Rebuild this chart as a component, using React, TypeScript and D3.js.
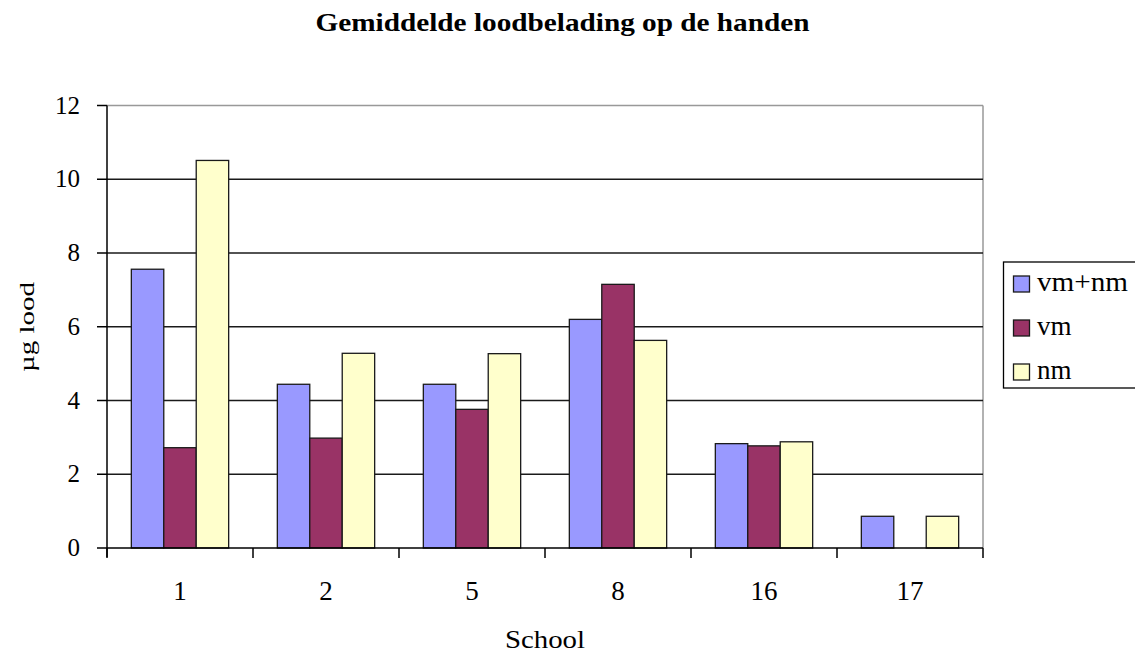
import React from "react";
import * as d3 from "d3";

const categories = ["1", "2", "5", "8", "16", "17"];
const seriesNames = ["vm+nm", "vm", "nm"];
const vmnm = [7.56, 4.44, 4.44, 6.2, 2.83, 0.86];
const vm = [2.72, 2.98, 3.76, 7.15, 2.77, 0];
const nm = [10.51, 5.28, 5.27, 5.63, 2.88, 0.86];
const colors = ["#9999FF", "#993366", "#FFFFCC"];
const yTicks = [0, 2, 4, 6, 8, 10, 12];

const W = 1135;
const H = 655;
const L = 107, R = 983, T = 105.5, B = 548;
const FONT = "'Liberation Serif', 'Times New Roman', serif";

export default function App() {
  const x0 = d3.scaleBand<string>().domain(categories).range([L, R]).paddingInner(0).paddingOuter(0);
  const x1 = d3.scaleBand<string>().domain(seriesNames).range([0, x0.bandwidth()]).paddingInner(0).paddingOuter(0.75);
  const y = d3.scaleLinear().domain([0, 12]).range([B, T]);
  const data = [vmnm, vm, nm];

  return (
    <svg width={W} height={H} style={{ position: "absolute", left: 0, top: 0, background: "#fff" }}>
      <rect x={0} y={0} width={W} height={H} fill="#fff" />
      <text x={562.5} y={31} textAnchor="middle" fontFamily={FONT} fontWeight="bold" fontSize={26}
        textLength={494} lengthAdjust="spacingAndGlyphs" fill="#000">Gemiddelde loodbelading op de handen</text>

      {/* plot border top/right */}
      <line x1={L} x2={R} y1={T} y2={T} stroke="#999" strokeWidth={1.5} />
      <line x1={R} x2={R} y1={T} y2={B} stroke="#999" strokeWidth={1.5} />

      {/* gridlines */}
      {yTicks.filter(t => t > 0 && t < 12).map(t => (
        <line key={t} x1={L} x2={R} y1={y(t)} y2={y(t)} stroke="#1a1a1a" strokeWidth={1.5} />
      ))}

      {/* bars */}
      {categories.map((c, i) => (
        <g key={c} transform={`translate(${x0(c)},0)`}>
          {seriesNames.map((s, j) => {
            const v = data[j][i];
            if (!v) return null;
            return (
              <rect key={s} x={x1(s)} y={y(v)} width={x1.bandwidth()} height={y(0) - y(v)}
                fill={colors[j]} stroke="#1a1a1a" strokeWidth={1.3} />
            );
          })}
        </g>
      ))}

      {/* y axis */}
      <line x1={L} x2={L} y1={T} y2={B + 9} stroke="#000" strokeWidth={1.5} />
      {yTicks.map(t => (
        <g key={t}>
          <line x1={L - 10} x2={L} y1={y(t)} y2={y(t)} stroke="#000" strokeWidth={1.5} />
          <text x={80} y={y(t) + 8} textAnchor="end" fontFamily={FONT} fontSize={25} fill="#000">{t}</text>
        </g>
      ))}

      {/* x axis */}
      <line x1={L} x2={R} y1={B} y2={B} stroke="#000" strokeWidth={1.5} />
      {[...categories.map(c => x0(c) as number), R].map((xx, i) => (
        <line key={i} x1={xx} x2={xx} y1={B} y2={B + 10} stroke="#000" strokeWidth={1.5} />
      ))}
      {categories.map(c => (
        <text key={c} x={(x0(c) as number) + x0.bandwidth() / 2} y={600} textAnchor="middle"
          fontFamily={FONT} fontSize={27} fill="#000">{c}</text>
      ))}

      <text x={545} y={648} textAnchor="middle" fontFamily={FONT} fontSize={25}
        textLength={80} lengthAdjust="spacingAndGlyphs" fill="#000">School</text>
      <text transform="translate(34,327) rotate(-90)" textAnchor="middle" fontFamily={FONT} fontSize={22}
        textLength={90} lengthAdjust="spacingAndGlyphs" fill="#000">µg lood</text>

      {/* legend */}
      <rect x={1003.5} y={262} width={140} height={126} fill="#fff" stroke="#000" strokeWidth={1.3} />
      {seriesNames.map((s, j) => (
        <g key={s} transform={`translate(0,${284 + j * 44})`}>
          <rect x={1013.5} y={-8} width={16} height={16} fill={colors[j]} stroke="#1a1a1a" strokeWidth={1.3} />
          <text x={1037} y={7} fontFamily={FONT} fontSize={27} fill="#000"
            textLength={s === "vm+nm" ? 91 : undefined} lengthAdjust="spacingAndGlyphs">{s}</text>
        </g>
      ))}
    </svg>
  );
}
